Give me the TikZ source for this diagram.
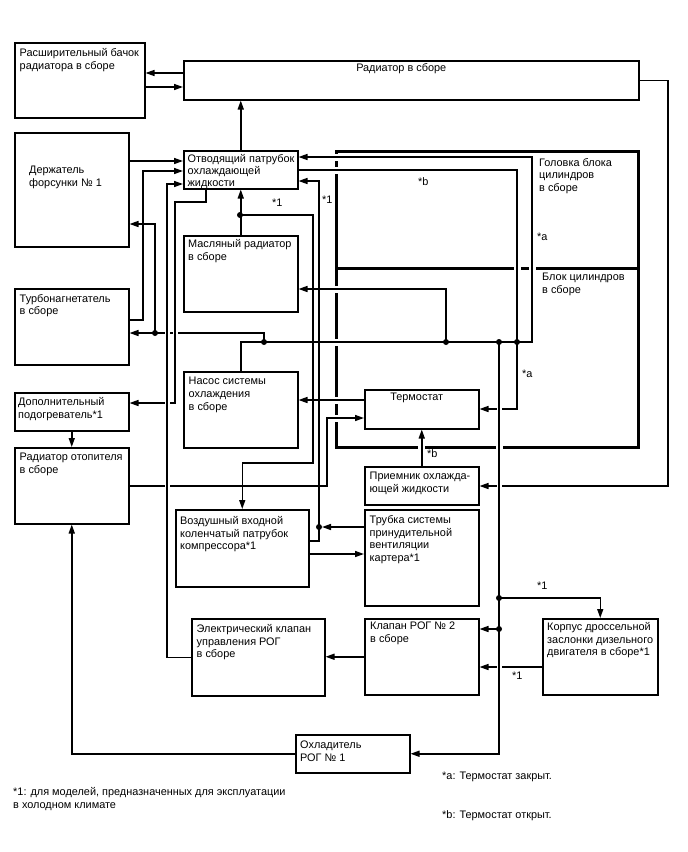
\documentclass[tikz,border=0pt]{standalone}
\usepackage{fontspec}
\setmainfont{Liberation Sans}
\usepackage{tikz}
\usetikzlibrary{arrows.meta}
\tikzset{
  ar/.style={-{Triangle[length=9pt,width=6pt]},line width=1.5pt},
  halo/.style={preaction={draw=white,line width=5pt,-,shorten <=3pt,shorten >=3pt}},
  box/.style={draw,line width=1.5pt,anchor=north west,inner sep=0pt},
  tl/.style 2 args={anchor=north west,inner sep=0pt,align=left,font=\fontsize{10.9}{12.8}\selectfont,xshift=#1,yshift=#2},
  tx/.style={tl={5.5pt}{-6pt}},
  note/.style={anchor=north west,inner sep=0pt,align=left,font=\fontsize{10.9}{12.8}\selectfont},
  eng/.style={line width=3pt}
}
\begin{document}
\begin{tikzpicture}[x=1pt,y=-1pt]
\useasboundingbox (0,0) rectangle (688,852);
% units
\node[box,minimum width=130pt,minimum height=75pt,label={[tx]north west:{Расширительный бачок\\радиатора в сборе}}] (tank) at (14,42) {};
\node[box,minimum width=455pt,minimum height=39pt,label={[tl={-10pt}{-3pt},anchor=north]north:{Радиатор в сборе}}] (rad) at (183,60) {};
\node[box,minimum width=114pt,minimum height=114pt,label={[tl={15pt}{-34pt}]north west:{Держатель\\форсунки № 1}}] (inj) at (14,132) {};
\node[box,minimum width=114pt,minimum height=38pt,label={[tl={4.5pt}{-4.5pt},font=\fontsize{10.9}{11.8}\selectfont]north west:{Отводящий патрубок\\охлаждающей\\жидкости}}] (outlet) at (183,150) {};
\node[box,minimum width=114pt,minimum height=76pt,label={[tl={5pt}{-4pt}]north west:{Масляный радиатор\\в сборе}}] (oilc) at (183,235) {};
\node[box,minimum width=114pt,minimum height=76pt,label={[tx]north west:{Турбонагнетатель\\в сборе}}] (turbo) at (14,288) {};
\node[box,minimum width=114pt,minimum height=76pt,label={[tx]north west:{Насос системы\\охлаждения\\в сборе}}] (pump) at (183,371) {};
\node[box,minimum width=114pt,minimum height=38pt,label={[tl={4pt}{-5pt}]north west:{Дополнительный\\подогреватель*1}}] (aux) at (14,392) {};
\node[box,minimum width=114pt,minimum height=76pt,label={[tx]north west:{Радиатор отопителя\\в сборе}}] (heatc) at (14,447) {};
\node[box,minimum width=114pt,minimum height=39pt,label={[tl={-5pt}{-4pt},anchor=north]north:{Термостат}}] (thermo) at (364,389) {};
\node[box,minimum width=114pt,minimum height=38pt,label={[tx]north west:{Приемник охлажда-\\ющей жидкости}}] (recv) at (364,466) {};
\node[box,minimum width=133pt,minimum height=77pt,label={[tl={5pt}{-7pt}]north west:{Воздушный входной\\коленчатый патрубок\\компрессора*1}}] (elbow) at (175,509) {};
\node[box,minimum width=114pt,minimum height=96pt,label={[tx]north west:{Трубка системы\\принудительной\\вентиляции\\картера*1}}] (pcv) at (364,509) {};
\node[box,minimum width=114pt,minimum height=76pt,label={[tl={6pt}{-4pt}]north west:{Клапан РОГ № 2\\в сборе}}] (egrtwo) at (364,618) {};
\node[box,minimum width=115pt,minimum height=76pt,label={[tl={5pt}{-4pt}]north west:{Корпус дроссельной\\заслонки дизельного\\двигателя в сборе*1}}] (thr) at (542,618) {};
\node[box,minimum width=133pt,minimum height=77pt,label={[tx]north west:{Электрический клапан\\управления РОГ\\в сборе}}] (egrv) at (191,618) {};
\node[box,minimum width=114pt,minimum height=38pt,label={[tl={5pt}{-7pt}]north west:{Охладитель\\РОГ № 1}}] (egrc) at (295,734) {};
% engine
\draw[eng] (336,151) rectangle (638,447);
\draw[eng] (336,268) -- (638,268);
\foreach \y in {157,170,289,342,400,418} \fill[white] (332,{\y-3.5}) rectangle (340,{\y+3.5});
\foreach \x in {517,532} \fill[white] ({\x-3.5},264) rectangle ({\x+3.5},272);
\foreach \x in {421,499} \fill[white] ({\x-3.5},443) rectangle ({\x+3.5},451);
\node[note] (headt) at (539,158) {Головка блока\\цилиндров\\в сборе};
\node[note] (blockt) at (542,273) {Блок цилиндров\\в сборе};
% junctions
\coordinate (jo) at (240,215);
\coordinate (jt) at (155,333);
\coordinate (jp) at (264,342);
\coordinate (jm) at (446,342);
\coordinate (jr) at (499,342);
\coordinate (ja) at (517,342);
\coordinate (jc) at (319,527);
\coordinate (js) at (499,598);
\coordinate (jv) at (499,629);
% lines
\draw[ar] (rad.west |- 0,73) -- (tank.east |- 0,73);
\draw[ar] (tank.east |- 0,87) -- (rad.west |- 0,87);
\draw[ar] (outlet.north) -- (outlet.north |- rad.south);
\draw[ar] (inj.east |- 0,161) -- (outlet.west |- 0,161);
\draw[ar] (turbo.east |- 0,320) -| (143,171) -- (outlet.west |- 0,171);
\draw[ar] (aux.south) -- (heatc.north);
\draw[ar] (egrc.west) -| (heatc.south);
\draw[ar] (oilc.north) -- (outlet.south);
\draw[ar] (jo) -| (313,463) -| (elbow.north);
\draw[ar] (elbow.east |- 0,541) -| (jc) |- (outlet.east |- 0,181);
\draw[ar,shorten >=3pt] (pcv.west |- jc) -- (jc);
\draw[ar] (elbow.east |- 0,554) -- (pcv.west |- 0,554);
\draw[ar] (pump.north) |- (jp) -- (532,342) |- (outlet.east |- 0,157);
\draw[ar] (jp) |- (jt) -- (turbo.east |- jt);
\draw[ar] (jt) |- (inj.east |- 0,224);
\draw[ar] (jm) |- (oilc.east |- 0,289);
\draw[ar] (outlet.east |- 0,170) -| (ja) |- (thermo.east |- 0,409);
\draw[ar] (thr.west |- 0,667) -- (egrtwo.east |- 0,667);
\draw[ar] (egrtwo.west) -- (egrv.east |- egrtwo.west);
\draw[ar] (thermo.west |- 0,400) -- (pump.east |- 0,400);
\draw[ar] (heatc.east |- 0,486) -| (327,418) -- (thermo.west |- 0,418);
\draw[ar] (recv.north) -- (thermo.south);
\draw[ar] (rad.east) -| (668,486) -- (recv.east |- 0,486);
\draw[ar,halo] (outlet.south -| 206,0) -- (206,202) -| (175,403) -- (aux.east |- 0,403);
\draw[ar,halo] (egrv.west) -| (167,184) -- (outlet.west |- 0,184);
\draw[ar,halo] (jr) |- (egrc.east);
\draw[ar] (js) -| (thr.north);
\draw[ar] (jv) -- (egrtwo.east |- jv);
\foreach \j in {jo,jt,jp,jm,jr,ja,jc,js,jv} \fill (\j) circle (3pt);
% marks
\node[note] (m1) at (272,199) {*1};
\node[note] (m2) at (322,196) {*1};
\node[note] (m3) at (418,177) {*b};
\node[note] (m4) at (537,233) {*a};
\node[note] (m5) at (522,370) {*a};
\node[note] (m6) at (427,449) {*b};
\node[note] (m7) at (537,582) {*1};
\node[note] (m8) at (512,672) {*1};
% notes
\node[note] (fn1) at (13,787) {*1: для моделей, предназначенных для эксплуатации\\в холодном климате};
\node[note] (fna) at (442,772) {*a: Термостат закрыт.};
\node[note] (fnb) at (442,810) {*b: Термостат открыт.};
\end{tikzpicture}
\end{document}
